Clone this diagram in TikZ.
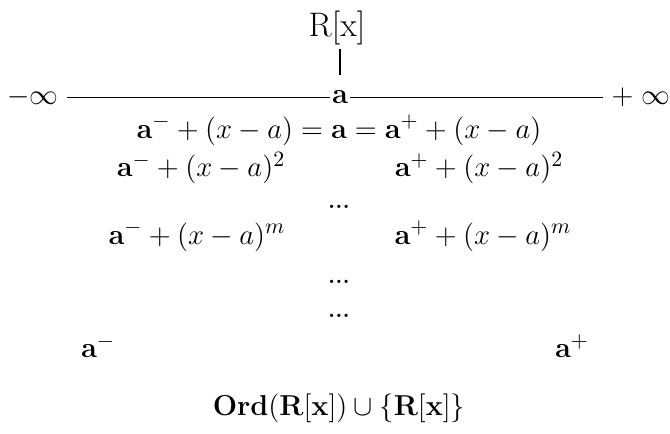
\documentclass[tikz,border=0pt]{standalone}
\usepackage{amsmath}
\usetikzlibrary{positioning}
\begin{document}
\begin{tikzpicture}[x=0.5pt, y=-0.5pt,
    term/.style={inner sep=1pt, font=\fontsize{15.7}{18}\selectfont},
    toptext/.style={inner sep=1pt, font=\fontsize{17}{20}\selectfont},
    dotsym/.style={inner sep=1pt, font=\fontsize{11.5}{13}\selectfont\bfseries},
    axis/.style={line width=0.5pt}
  ]
  \useasboundingbox (0,0) rectangle (670,434);

  % Nodes
  \node (Rx) [toptext] at (337,28) {R[x]};
  \node (minf) [term] at (33,97) {$-\infty$};
  \node (aval) [term] at (340,97) {$\mathbf{a}$};
  \node (pinf) [term] at (641,97) {$+\;\infty$};
  \node (row1) [term] at (339,130) {$\mathbf{a}^- + (x-a) = \mathbf{a} = \mathbf{a}^+ + (x-a)$};
  \node (lsq) [term] at (201,168) {$\mathbf{a}^- + (x-a)^2$};
  \node (rsq) [term] at (479,168) {$\mathbf{a}^+ + (x-a)^2$};
  \node (dots1) [dotsym] at (339,207) {...};
  \node (lm) [term] at (197,236) {$\mathbf{a}^- + (x-a)^m$};
  \node (rm) [term] at (483,236) {$\mathbf{a}^+ + (x-a)^m$};
  \node (dots2) [dotsym] at (339,282) {...};
  \node (dots3) [dotsym] at (339,316) {...};
  \node (aminus) [term] at (98,346) {$\mathbf{a}^-$};
  \node (aplus) [term] at (572,346) {$\mathbf{a}^+$};
  \node (ord) [term] at (339,408) {$\mathbf{Ord(R[x])} \cup \{\mathbf{R[x]}\}$};

  % Lines
  \draw [axis] (minf.east) ++(6,0) -- (aval.west);
  \draw [axis, shorten >=3pt] (aval.east) -- (pinf.west);
  \draw [line width=1pt, shorten <=1pt, shorten >=6.5pt] (Rx.south -| aval) -- (aval.north);
\end{tikzpicture}
\end{document}
